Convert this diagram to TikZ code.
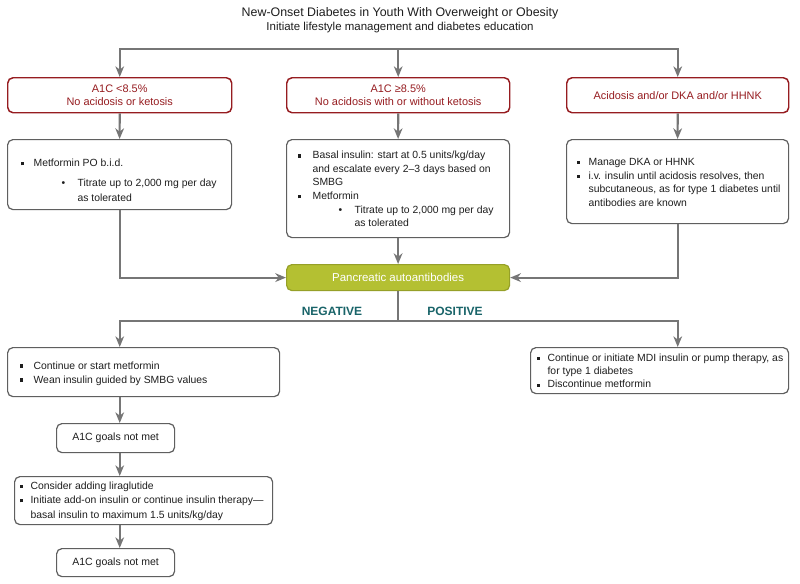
\documentclass[tikz,border=0pt]{standalone}
\usepackage{fontspec}
\setmainfont{Liberation Sans}
\usetikzlibrary{arrows.meta}
\newlength\pxu \setlength\pxu{0.75pt}
\definecolor{arrgray}{RGB}{118,118,118}
\definecolor{boxgray}{RGB}{95,95,95}
\definecolor{hdred}{RGB}{150,28,32}
\definecolor{pgreen}{RGB}{180,192,50}
\definecolor{pgreenb}{RGB}{150,160,40}
\definecolor{tealtxt}{RGB}{25,100,105}
\definecolor{txt}{RGB}{30,30,30}
% #1 width px, #2 height px, #3 top pad px, #4 baselineskip pt, #5 content
\newcommand\bx[5]{\parbox[c][#2\pxu][t]{#1\pxu}{\fontsize{7.8}{#4}\selectfont\vspace*{#3\pxu}#5}}
% #1 bullet offset px, #2 text offset px, #3 bullet, #4 text
\newcommand\li[4]{\par\noindent\strut\makebox[#2\pxu][l]{\hspace*{#1\pxu}#3}#4}
\newcommand\sqb{\rule[0.9pt]{2.7pt}{2.7pt}}
\newcommand\ssq{\rule[1.1pt]{2.2pt}{2.2pt}}
\newcommand\dotb{\textbullet}
\begin{document}
\begin{tikzpicture}[x=0.75pt,y=-0.75pt,
  box/.style={draw=boxgray, line width=0.9pt, rounded corners=4pt, fill=white, inner sep=0pt, anchor=north west, text=txt},
  hdbox/.style={draw=hdred, line width=1.1pt, rounded corners=4pt, fill=white, inner sep=0pt, anchor=north west, text=hdred, align=center, font=\fontsize{8.2}{9.75}\selectfont, minimum height=26.25pt},
  smallbox/.style={box, align=center, font=\fontsize{7.9}{9}\selectfont, minimum width=88.5pt},
  conn/.style={draw=arrgray, line width=1.6pt, -{Stealth[length=8pt,width=6.5pt,inset=2.5pt]}},
  bare/.style={draw=arrgray, line width=1.6pt},
  lbl/.style={font=\bfseries\fontsize{9}{10}\selectfont, text=tealtxt, inner sep=0pt}]
\fill[white] (0,0) rectangle (800,583);
\useasboundingbox (0,0) rectangle (800,583);

% titles
\node[font=\fontsize{9.3}{11}\selectfont, text=txt, inner sep=0pt] (T1) at (400,13) {New-Onset Diabetes in Youth With Overweight or Obesity};
\node[font=\fontsize{8.6}{10}\selectfont, text=txt, inner sep=0pt] (T2) at (400,28) {Initiate lifestyle management and diabetes education};

% header boxes
\node[hdbox, minimum width=168pt] (A) at (7,77) {A1C <8.5\%\\No acidosis or ketosis};
\node[hdbox, minimum width=167.25pt] (B) at (286,77) {A1C ≥8.5\%\\No acidosis with or without ketosis};
\node[hdbox, minimum width=166.5pt] (C) at (566,77) {Acidosis and/or DKA and/or HHNK};

% treatment boxes
\node[box] (D) at (7,139) {\bx{224}{70}{16.6}{11.2}{%
  \li{13}{26}{\sqb}{Metformin PO b.i.d.}\par\vspace{5\pxu}%
  \li{54}{70}{\dotb}{Titrate up to 2,000 mg per day}%
  \li{0}{70}{}{as tolerated}}};
\node[box] (E) at (286,139) {\bx{223}{98}{9.6}{10.2}{%
  \li{11}{26}{\sqb}{Basal insulin: start at 0.5 units/kg/day}%
  \li{0}{26}{}{and escalate every 2–3 days based on}%
  \li{0}{26}{}{SMBG}%
  \li{11}{26}{\sqb}{Metformin}%
  \li{52}{68}{\dotb}{Titrate up to 2,000 mg per day}%
  \li{0}{68}{}{as tolerated}}};
\node[box] (F) at (566,139) {\bx{222}{84}{16.2}{10.3}{%
  \li{10}{22}{\ssq}{Manage DKA or HHNK}%
  \li{10}{22}{\ssq}{i.v. insulin until acidosis resolves, then}%
  \li{0}{22}{}{subcutaneous, as for type 1 diabetes until}%
  \li{0}{22}{}{antibodies are known}}};

% pancreatic autoantibodies
\node[draw=pgreenb, fill=pgreen, line width=0.9pt, rounded corners=4pt, anchor=north west, inner sep=0pt,
      minimum width=167.25pt, minimum height=19.5pt, text=white, font=\fontsize{8.6}{10}\selectfont] (P) at (286,264) {Pancreatic autoantibodies};

\node[lbl] (neg) at (332,311) {NEGATIVE};
\node[lbl] (pos) at (455,311) {POSITIVE};

% lower boxes
\node[box] (G) at (7,347) {\bx{272}{49}{11.6}{10.5}{%
  \li{12}{26}{\sqb}{Continue or start metformin}%
  \li{12}{26}{\sqb}{Wean insulin guided by SMBG values}}};
\node[box] (H) at (530,347) {\bx{258}{46}{4}{10.1}{%
  \li{6}{17}{\ssq}{Continue or initiate MDI insulin or pump therapy, as}%
  \li{0}{17}{}{for type 1 diabetes}%
  \li{6}{17}{\ssq}{Discontinue metformin}}};
\node[smallbox, minimum height=21.75pt] (I) at (56,423) {A1C goals not met};
\node[box] (J) at (14,476) {\bx{258}{48}{2.4}{10.9}{%
  \li{5}{16}{\ssq}{Consider adding liraglutide}%
  \li{5}{16}{\ssq}{Initiate add-on insulin or continue insulin therapy—}%
  \li{0}{16}{}{basal insulin to maximum 1.5 units/kg/day}}};
\node[smallbox, minimum height=21pt] (K) at (56,548) {A1C goals not met};

% connectors
\coordinate (hub1) at (B.north |- 0,49);
\draw[conn] (hub1) -| (A.north);
\draw[conn] (hub1) -| (C.north);
\draw[conn] (hub1) -- (B.north);
\draw[conn] (A.south) -- (D.north);
\draw[conn] (B.south) -- (E.north);
\draw[conn] (C.south) -- (F.north);
\draw[conn] (D.south) |- (P.west);
\draw[conn] (E.south) -- (P.north);
\draw[conn] (F.south) |- (P.east);
\coordinate (hub2) at (P.south |- 0,321);
\draw[bare] (P.south) -- (hub2);
\draw[conn] (hub2) -| (G.north -| A.south);
\draw[conn] (hub2) -| (H.north -| C.south);
\draw[conn] (G.south -| A.south) -- (I.north -| A.south);
\draw[conn] (I.south -| A.south) -- (J.north -| A.south);
\draw[conn] (J.south -| A.south) -- (K.north -| A.south);
\end{tikzpicture}
\end{document}
